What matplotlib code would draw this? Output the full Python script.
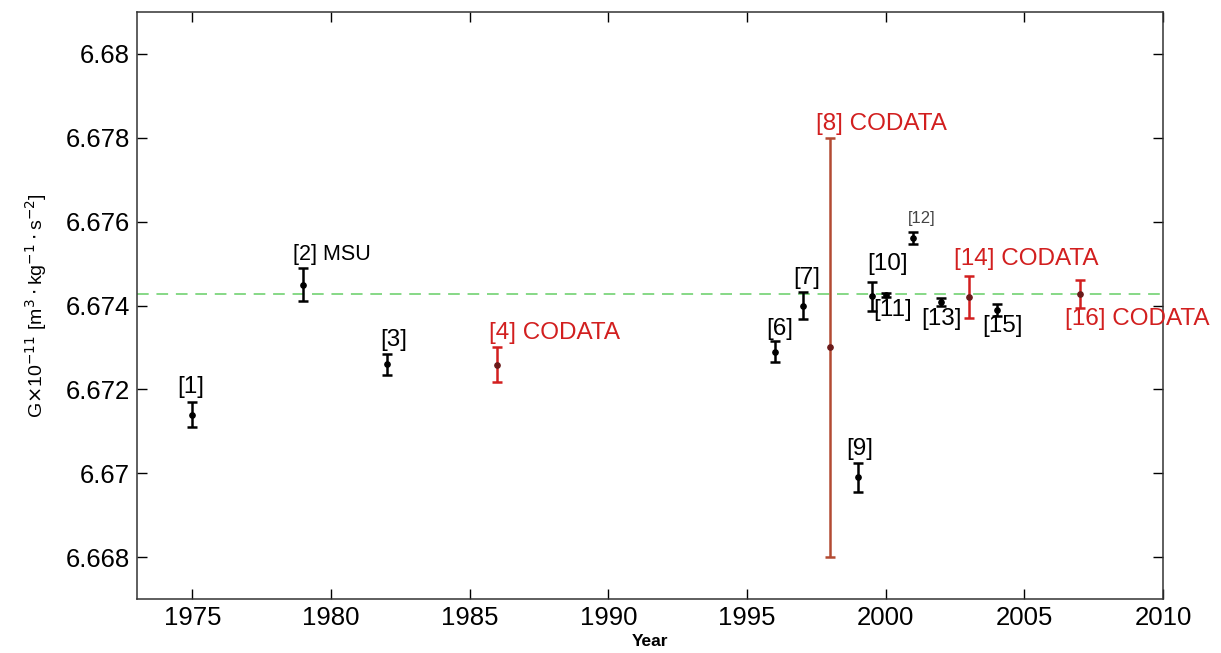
"""Measurements of the gravitational constant G by year, with CODATA values highlighted."""

import matplotlib.pyplot as plt
from matplotlib.ticker import FuncFormatter, MultipleLocator

plt.rcParams["font.family"] = ["Liberation Sans", "DejaVu Sans"]

# reference number, year, G (x1e-11) and half-width of the error bar
refs = ["[1]", "[2] MSU", "[3]", "[4] CODATA", "[6]", "[7]", "[8] CODATA", "[9]",
        "[10]", "[11]", "[12]", "[13]", "[14] CODATA", "[15]", "[16] CODATA"]
years = [1975, 1979, 1982, 1986, 1996, 1997, 1998, 1999,
         1999.5, 2000, 2001, 2002, 2003, 2004, 2007]
g_values = [6.6714, 6.6745, 6.6726, 6.67259, 6.6729, 6.6740, 6.673, 6.6699,
            6.67422, 6.67425, 6.67561, 6.67409, 6.6742, 6.67389, 6.67428]
g_errors = [0.0003, 0.0004, 0.00025, 0.000425, 0.00025, 0.00033, 0.005, 0.00034,
            0.00035, 0.00005, 0.00014, 0.0001, 0.0005, 0.00015, 0.000335]
is_codata = [False, False, False, True, False, False, True, False,
             False, False, False, False, True, False, True]
g_reference = 6.67428

# where each reference label sits (left edge x, centre y) in data units
label_x = [1974.45, 1978.64, 1981.77, 1985.68, 1995.68, 1996.67, 1997.49, 1998.57,
           1999.34, 1999.55, 2000.79, 2001.27, 2002.47, 2003.49, 2006.48]
label_y = [6.67205, 6.67521, 6.67317, 6.67335, 6.67345, 6.67466, 6.67833, 6.67057,
           6.67498, 6.67389, 6.67607, 6.67367, 6.67510, 6.67351, 6.67367]

RED = "#d21f1f"

fig = plt.figure(figsize=(12.21, 6.53), dpi=100)
ax = fig.add_axes([0.1122, 0.0827, 0.8403, 0.8989])

ax.axhline(g_reference, color="#86d886", linestyle=(0, (6, 4)), linewidth=1.4, zorder=1)

for i in range(len(years)):
    if is_codata[i]:
        line_color = "#b34a32" if g_errors[i] > 0.001 else RED
        cap_color = RED
        dot_color = "#6a1a1a"
    else:
        line_color = cap_color = dot_color = "black"
    _, caps, _ = ax.errorbar(years[i], g_values[i], yerr=g_errors[i], fmt="o",
                             markersize=3.8, color=dot_color, ecolor=line_color,
                             elinewidth=1.8, capsize=3.4, capthick=1.8, zorder=3)
    for cap in caps:
        cap.set_color(cap_color)

    if refs[i] == "[12]":
        size, color = 12, "#444444"
    elif refs[i] == "[2] MSU":
        size, color = 15.5, "black"
    else:
        size, color = 17.5, RED if is_codata[i] else "black"
    ax.text(label_x[i], label_y[i], refs[i], color=color, fontsize=size,
            ha="left", va="center", zorder=4, clip_on=False)

ax.set_xlim(1973, 2010)
ax.set_ylim(6.667, 6.681)
ax.xaxis.set_major_locator(MultipleLocator(5))
ax.yaxis.set_major_locator(MultipleLocator(0.002))
ax.yaxis.set_major_formatter(FuncFormatter(lambda v, _: f"{v:.3f}".rstrip("0")))

ax.tick_params(direction="in", length=7, width=1, top=True, right=True,
               labelsize=18.5, colors="black", pad=5)
for spine in ax.spines.values():
    spine.set_linewidth(1.1)
    spine.set_color("#333333")

ax.set_xlabel("Year", fontsize=12.5, fontweight="bold", labelpad=3)
ax.set_ylabel(r"G$\times$10$^{-11}$ [m$^3\cdot$kg$^{-1}\cdot$s$^{-2}$]", fontsize=14, labelpad=12)

fig.savefig("out.png", dpi=100)
